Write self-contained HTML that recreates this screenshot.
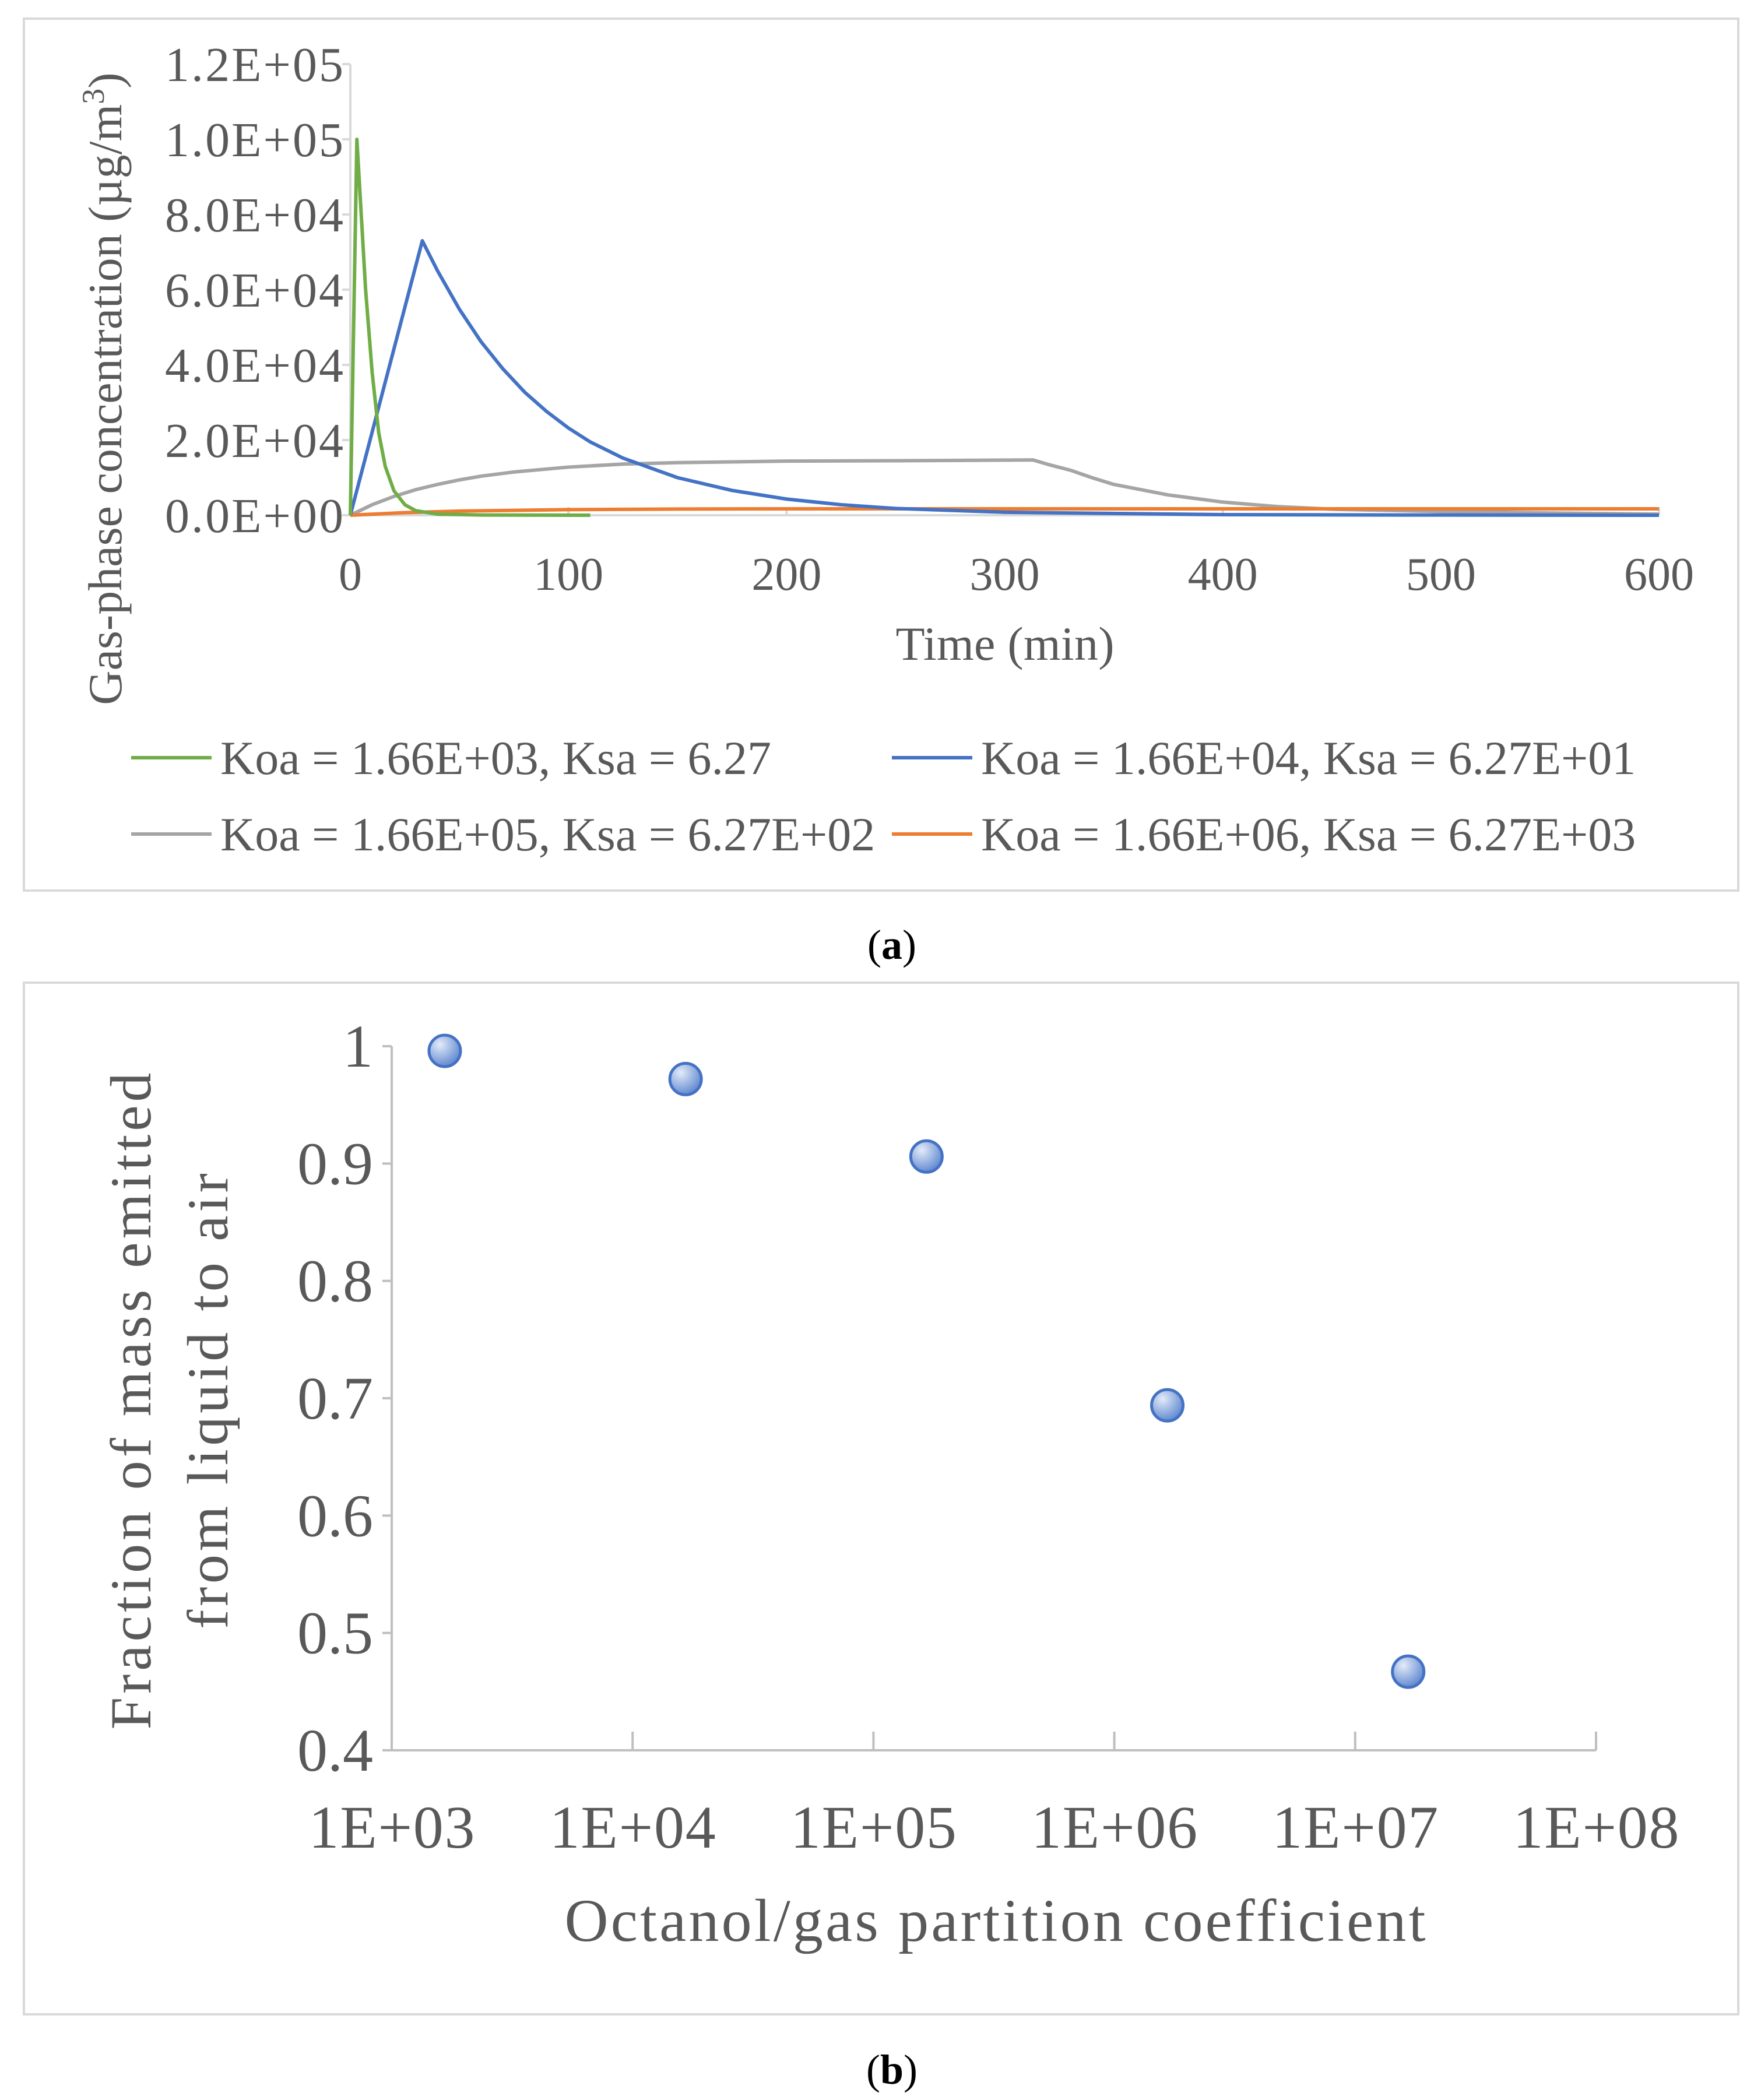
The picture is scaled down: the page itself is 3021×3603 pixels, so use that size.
<!DOCTYPE html>
<html><head><meta charset="utf-8"><style>
body{margin:0;background:#fff}
svg{display:block}
text{font-family:"Liberation Serif",serif;fill:#595959}
</style></head><body>
<svg id="s" width="3021" height="3603" viewBox="0 0 3021 3603">
<rect x="41" y="32" width="2941" height="1496" fill="#fff" stroke="#d9d9d9" stroke-width="4"/>
<rect x="41" y="1686" width="2941" height="1770" fill="#fff" stroke="#d9d9d9" stroke-width="4"/>
<g id="ga"></g>
<g id="gb"></g>
<text x="1530" y="1645" font-size="72" text-anchor="middle" style="fill:#000">(<tspan font-weight="bold">a</tspan>)</text>
<text x="1530" y="3575" font-size="72" text-anchor="middle" style="fill:#000">(<tspan font-weight="bold">b</tspan>)</text>
<defs><radialGradient id="mg" cx="35%" cy="30%" r="75%"><stop offset="0" stop-color="#e3ebf8"/><stop offset="1" stop-color="#5b84cf"/></radialGradient></defs>
</svg>
<script>
// ---- Chart A data ----
const aYTicks=[0,20000,40000,60000,80000,100000,120000];
const aYTickLabels=["0.0E+00","2.0E+04","4.0E+04","6.0E+04","8.0E+04","1.0E+05","1.2E+05"];
const aXTicks=[0,100,200,300,400,500,600];
const greenT=[0,3,5,7,10,13,16,20,25,30,40,60,110];
const greenV=[0,100000,80000,60000,38000,22000,13000,6500,2800,1200,300,50,0];
const blueT=[0,33,40,50,60,70,80,90,100,110,125,150,175,200,225,250,300,400,500,600];
const blueV=[0,73000,65000,54800,46100,38900,32700,27600,23200,19500,15200,10000,6600,4300,2800,1800,800,150,50,0];
const grayT=[0,10,20,30,40,50,60,75,100,125,150,200,250,313,320,330,340,350,375,400,425,450,500,550,600];
const grayV=[0,2800,5000,6800,8200,9400,10400,11500,12800,13600,14000,14400,14500,14700,13500,12000,10000,8200,5400,3500,2300,1600,1000,600,300];
const orangeT=[0,25,50,100,150,200,300,400,500,600];
const orangeV=[0,700,1100,1500,1650,1700,1700,1700,1700,1700];
const legendLabels=["Koa = 1.66E+03, Ksa = 6.27","Koa = 1.66E+04, Ksa = 6.27E+01","Koa = 1.66E+05, Ksa = 6.27E+02","Koa = 1.66E+06, Ksa = 6.27E+03"];
// ---- Chart B data ----
const bKoa=[1.66e3,1.66e4,1.66e5,1.66e6,1.66e7];
const bFrac=[0.996,0.972,0.906,0.694,0.467];
const bYTicks=[0.4,0.5,0.6,0.7,0.8,0.9,1];
const bYTickLabels=["0.4","0.5","0.6","0.7","0.8","0.9","1"];
const bXExp=[3,4,5,6,7,8];
const bXTickLabels=["1E+03","1E+04","1E+05","1E+06","1E+07","1E+08"];

const NS="http://www.w3.org/2000/svg";
function mk(p,tag,at,txt){const e=document.createElementNS(NS,tag);for(const k in at)e.setAttribute(k,at[k]);if(txt!==undefined)e.textContent=txt;p.appendChild(e);return e;}
const ga=document.getElementById('ga'),gb=document.getElementById('gb');
const ax=t=>601+(2846-601)*t/600, ay=v=>884-(884-110)*v/120000;
let e;
e=mk(ga,'line',{x1:ax(0),y1:ay(0),x2:ax(0),y2:ay(120000),stroke:'#d9d9d9','stroke-width':4});


e=mk(ga,'line',{x1:ax(0),y1:ay(0),x2:ax(600),y2:ay(0),stroke:'#d9d9d9','stroke-width':4});


aYTicks.forEach((v,i)=>{
 mk(ga,'line',{x1:ax(0)-14,y1:ay(v),x2:ax(0),y2:ay(v),stroke:'#d9d9d9','stroke-width':4});
 e=mk(ga,'text',{x:589,y:ay(v)+29,'font-size':84,'text-anchor':'end',textLength:306},aYTickLabels[i]);
 
 
});
aXTicks.forEach(t=>{
 mk(ga,'line',{x1:ax(t),y1:ay(0),x2:ax(t),y2:ay(0)-14,stroke:'#d9d9d9','stroke-width':4});
 e=mk(ga,'text',{x:ax(t),y:1012,'font-size':80,'text-anchor':'middle'},String(t));
 
 
});
e=mk(ga,'text',{x:1724,y:1132,'font-size':82,'text-anchor':'middle',textLength:375},'Time (min)');


e=mk(ga,'text',{x:0,y:0,'font-size':82,'text-anchor':'middle',transform:'translate(208,667) rotate(-90)'});
e.innerHTML='Gas-phase concentration (µg/m<tspan dy="-30" font-size="54">3</tspan><tspan dy="30">)</tspan>';


const series=[[greenT,greenV,'#70ad47','series-green'],[blueT,blueV,'#4472c4','series-blue'],[grayT,grayV,'#a5a5a5','series-gray'],[orangeT,orangeV,'#ed7d31','series-orange']];
[2,3,1,0].forEach(k=>{const [T,V,c,n]=series[k];
 e=mk(ga,'polyline',{points:T.map((t,i)=>ax(t)+','+ay(V[i])).join(' '),fill:'none',stroke:c,'stroke-width':6,'stroke-linejoin':'round'});
 
 
});
legendLabels.forEach((l,i)=>{
 const lx=i%2?1530:225, ly=i<2?1300:1431;
 mk(ga,'line',{x1:lx,y1:ly,x2:lx+138,y2:ly,stroke:series[i][2],'stroke-width':6});
 e=mk(ga,'text',{x:lx+153,y:ly+28,'font-size':82},l);
 
 
});
const bx=k=>672+(2738-672)*(Math.log10(k)-3)/5, by=v=>3003-(3003-1795)*(v-0.4)/0.6;
e=mk(gb,'line',{x1:672,y1:by(0.4),x2:672,y2:by(1),stroke:'#bfbfbf','stroke-width':4});


e=mk(gb,'line',{x1:672,y1:by(0.4),x2:2738,y2:by(0.4),stroke:'#bfbfbf','stroke-width':4});


bYTicks.forEach((v,i)=>{
 mk(gb,'line',{x1:656,y1:by(v),x2:672,y2:by(v),stroke:'#bfbfbf','stroke-width':4});
 e=mk(gb,'text',{x:640,y:by(v)+35,'font-size':104,'text-anchor':'end'},bYTickLabels[i]);
 
 
});
bXExp.forEach((p,i)=>{
 const x=bx(Math.pow(10,p));
 mk(gb,'line',{x1:x,y1:by(0.4),x2:x,y2:by(0.4)-32,stroke:'#bfbfbf','stroke-width':4});
 e=mk(gb,'text',{x:x,y:3170,'font-size':104,'text-anchor':'middle',textLength:285},bXTickLabels[i]);
 
 
});
e=mk(gb,'text',{x:1707,y:3330,'font-size':104,'text-anchor':'middle',textLength:1477},'Octanol/gas partition coefficient');


e=mk(gb,'text',{x:0,y:0,'font-size':100,'text-anchor':'middle',textLength:1127,transform:'translate(258,2404) rotate(-90)'},'Fraction of mass emitted');


e=mk(gb,'text',{x:0,y:0,'font-size':100,'text-anchor':'middle',textLength:782,transform:'translate(390,2404) rotate(-90)'},'from liquid to air');


bKoa.forEach((k,i)=>{
 e=mk(gb,'circle',{cx:bx(k),cy:by(bFrac[i]),r:27,fill:'url(#mg)',stroke:'#4472c4','stroke-width':5});
 
 
});
</script>
</body></html>
